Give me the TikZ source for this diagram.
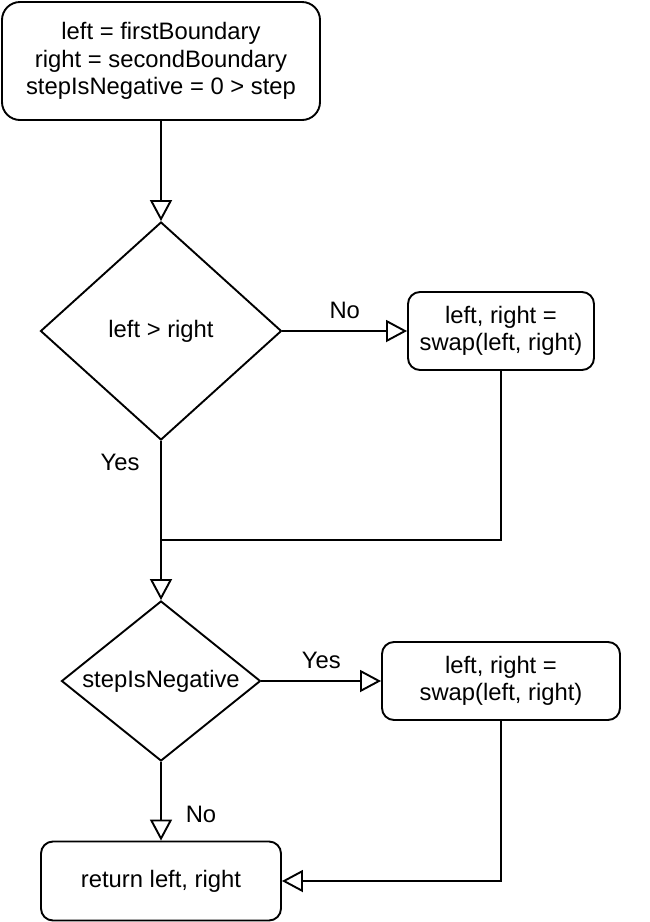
\documentclass[tikz,border=0pt]{standalone}
\usepackage{fontspec}
\setmainfont{Liberation Sans}
\usetikzlibrary{shapes.geometric,arrows.meta,positioning,calc}

\begin{document}
\begin{tikzpicture}[x=1pt,y=-1pt,line width=1.9pt,
            every node/.style={font=\fontsize{23.8}{27.5}\selectfont},
            proc/.style={rectangle,draw=black,rounded corners=12pt,align=center,inner sep=0pt},
            cond/.style={diamond,draw=black,inner sep=0pt,align=center},
            flow/.style={-{Triangle[open,length=21pt,width=22pt]}},
            lbl/.style={inner sep=0pt}]

            \useasboundingbox (0,0) rectangle (650,922);

            \node[proc,minimum width=318pt,minimum height=118pt,rounded corners=18pt] (init) at (161,61)
               {left = firstBoundary\\right = secondBoundary\\stepIsNegative = 0 > step};
            \node[cond,aspect=1.1,minimum width=241pt,minimum height=218pt] (cmp) at (161,331) {left > right};
            \node[proc,minimum width=186pt,minimum height=78pt] (swapA) at (501,331) {left, right =\\swap(left, right)};
            \node[cond,aspect=1.25,minimum width=199pt,minimum height=160pt] (neg) at (161,681) {stepIsNegative};
            \node[proc,minimum width=238pt,minimum height=78pt] (swapB) at (501,681) {left, right =\\swap(left, right)};
            \node[proc,minimum width=240pt,minimum height=79pt] (ret) at (161,881) {return left, right};
            \coordinate (merge) at (161,540);

            \draw[flow] (init) -- (cmp);
            \draw[flow] (cmp.east) -- node[lbl,above=11pt] {No} (swapA.west);
            \draw (swapA.south) |- (merge);
            \draw[flow] (cmp.south) -- (neg.north);
            \node[lbl] (yesA) at (120,462) {Yes};
            \draw[flow] (neg.east) -- node[lbl,above=11pt] {Yes} (swapB.west);
            \draw[flow] (neg.south) -- (ret.north);
            \node[lbl] (noB) at (201,814) {No};
            \draw[flow] (swapB.south) |- (ret.east);
         \end{tikzpicture}
\end{document}
